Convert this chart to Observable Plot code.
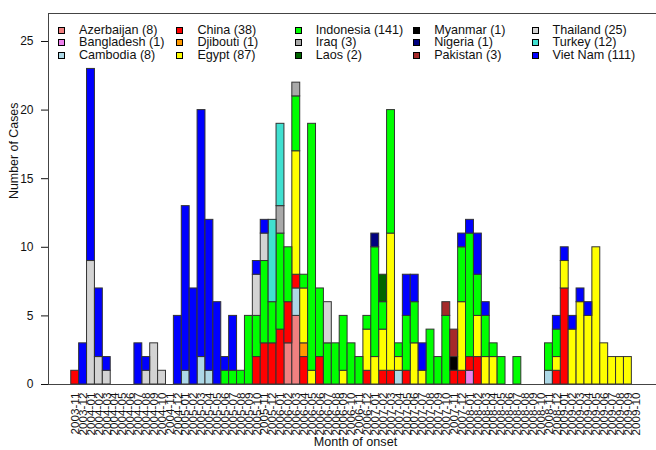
<!DOCTYPE html>
<html><head><meta charset="utf-8">
<script src="https://cdn.jsdelivr.net/npm/d3@7"></script>
<script src="https://cdn.jsdelivr.net/npm/@observablehq/plot@0.6"></script>
<style>
html,body{margin:0;padding:0;background:#fff;overflow:hidden;}
#wrap{position:relative;width:656px;height:450px;font-family:"Liberation Sans",Arial,sans-serif;}
#legend{position:absolute;left:58px;top:23.75px;display:grid;grid-auto-flow:column;grid-template-rows:repeat(3,12.5px);grid-template-columns:repeat(5,118.4px);z-index:2;}
.item{display:flex;align-items:center;font-size:12.6px;line-height:12.5px;white-space:nowrap;color:#111;}
.sw{width:7px;height:7px;box-sizing:border-box;border:1px solid #000;margin-right:14px;flex:none;}
</style></head>
<body><div id="wrap"><div id="legend"></div></div>
<script>
// Month of onset categories (tick labels)
const months = [
  "2003-11","2003-12",
  "2004-01","2004-02","2004-03","2004-04","2004-05","2004-06","2004-07","2004-08","2004-09","2004-10","2004-11","2004-12",
  "2005-01","2005-02","2005-03","2005-04","2005-05","2005-06","2005-07","2005-08","2005-09","2005-10","2005-11","2005-12",
  "2006-01","2006-02","2006-03","2006-04","2006-05","2006-06","2006-07","2006-08","2006-09","2006-10","2006-11","2006-12",
  "2007-01","2007-02","2007-03","2007-04","2007-05","2007-06","2007-07","2007-08","2007-09","2007-10","2007-11","2007-12",
  "2008-01","2008-02","2008-03","2008-04","2008-05","2008-06","2008-07","2008-08","2008-09","2008-10","2008-11","2008-12",
  "2009-01","2009-02","2009-03","2009-04","2009-05","2009-06","2009-07","2009-08","2009-09","2009-10"
];

const countries = ["Azerbaijan","Bangladesh","Cambodia","China","Djibouti","Egypt","Indonesia","Iraq","Laos","Myanmar","Nigeria","Pakistan","Thailand","Turkey","Viet Nam"];
const colors = ["#f08080","#ee82ee","#add8e6","#ff0000","#ff9900","#ffff00","#00ff00","#a9a9a9","#006400","#000000","#000080","#a52a2a","#d3d3d3","#40e0d0","#0000ff"];
const yTicks = [0,5,10,15,20,25];

// Cases per month (rows of 12: Nov..Oct), 2003-11 .. 2009-10
const azerbaijan = [
  0,0,0,0,0,0,0,0,0,0,0,0,
  0,0,0,0,0,0,0,0,0,0,0,0,
  0,0,0,3,5,0,0,0,0,0,0,0,
  0,0,0,0,0,0,0,0,0,0,0,0,
  0,0,0,0,0,0,0,0,0,0,0,0,
  0,0,0,0,0,0,0,0,0,0,0,0];
const bangladesh = [
  0,0,0,0,0,0,0,0,0,0,0,0,
  0,0,0,0,0,0,0,0,0,0,0,0,
  0,0,0,0,0,0,0,0,0,0,0,0,
  0,0,0,0,0,0,0,0,0,0,0,0,
  0,0,1,0,0,0,0,0,0,0,0,0,
  0,0,0,0,0,0,0,0,0,0,0,0];
const cambodia = [
  0,0,0,0,0,0,0,0,0,0,0,0,
  0,0,1,0,2,1,0,0,0,0,0,0,
  0,0,0,0,2,0,0,0,0,0,0,0,
  0,0,0,0,0,1,0,0,0,0,0,0,
  0,0,0,0,0,0,0,0,0,0,0,0,
  1,0,0,0,0,0,0,0,0,0,0,0];
const china = [
  1,0,0,0,0,0,0,0,0,0,0,0,
  0,0,0,0,0,0,0,0,0,0,0,2,
  3,3,4,3,1,2,0,2,0,0,0,0,
  0,1,0,1,1,0,1,0,0,0,0,0,
  1,1,1,2,0,0,0,0,0,0,0,0,
  0,1,7,0,0,0,0,0,0,0,0,0];
const djibouti = [
  0,0,0,0,0,0,0,0,0,0,0,0,
  0,0,0,0,0,0,0,0,0,0,0,0,
  0,0,0,0,0,1,0,0,0,0,0,0,
  0,0,0,0,0,0,0,0,0,0,0,0,
  0,0,0,0,0,0,0,0,0,0,0,0,
  0,0,0,0,0,0,0,0,0,0,0,0];
const egypt = [
  0,0,0,0,0,0,0,0,0,0,0,0,
  0,0,0,0,0,0,0,0,0,0,0,0,
  0,0,0,0,9,4,1,0,0,0,1,0,
  0,3,2,3,10,1,0,3,1,0,0,0,
  0,5,0,3,2,2,0,0,0,0,0,0,
  0,1,2,4,6,5,10,3,2,2,2,0];
const indonesia = [
  0,0,0,0,0,0,0,0,0,0,0,0,
  0,0,0,0,0,0,0,1,1,1,5,3,
  6,3,7,4,4,1,18,5,3,3,4,3,
  2,1,8,2,9,1,4,3,0,4,2,5,
  0,4,9,3,3,1,2,0,2,0,0,0,
  2,2,0,0,0,0,0,0,0,0,0,0];
const iraq = [
  0,0,0,0,0,0,0,0,0,0,0,0,
  0,0,0,0,0,0,0,0,0,0,0,0,
  0,0,2,0,1,0,0,0,0,0,0,0,
  0,0,0,0,0,0,0,0,0,0,0,0,
  0,0,0,0,0,0,0,0,0,0,0,0,
  0,0,0,0,0,0,0,0,0,0,0,0];
const laos = [
  0,0,0,0,0,0,0,0,0,0,0,0,
  0,0,0,0,0,0,0,0,0,0,0,0,
  0,0,0,0,0,0,0,0,0,0,0,0,
  0,0,0,2,0,0,0,0,0,0,0,0,
  0,0,0,0,0,0,0,0,0,0,0,0,
  0,0,0,0,0,0,0,0,0,0,0,0];
const myanmar = [
  0,0,0,0,0,0,0,0,0,0,0,0,
  0,0,0,0,0,0,0,0,0,0,0,0,
  0,0,0,0,0,0,0,0,0,0,0,0,
  0,0,0,0,0,0,0,0,0,0,0,0,
  1,0,0,0,0,0,0,0,0,0,0,0,
  0,0,0,0,0,0,0,0,0,0,0,0];
const nigeria = [
  0,0,0,0,0,0,0,0,0,0,0,0,
  0,0,0,0,0,0,0,0,0,0,0,0,
  0,0,0,0,0,0,0,0,0,0,0,0,
  0,0,1,0,0,0,0,0,0,0,0,0,
  0,0,0,0,0,0,0,0,0,0,0,0,
  0,0,0,0,0,0,0,0,0,0,0,0];
const pakistan = [
  0,0,0,0,0,0,0,0,0,0,0,0,
  0,0,0,0,0,0,0,0,0,0,0,0,
  0,0,0,0,0,0,0,0,0,0,0,0,
  0,0,0,0,0,0,0,0,0,0,0,1,
  2,0,0,0,0,0,0,0,0,0,0,0,
  0,0,0,0,0,0,0,0,0,0,0,0];
const thailand = [
  0,0,9,2,1,0,0,0,0,1,3,1,
  0,0,0,0,0,0,0,0,0,0,0,3,
  2,0,0,0,0,0,0,0,3,0,0,0,
  0,0,0,0,0,0,0,0,0,0,0,0,
  0,0,0,0,0,0,0,0,0,0,0,0,
  0,0,0,0,0,0,0,0,0,0,0,0];
const turkey = [
  0,0,0,0,0,0,0,0,0,0,0,0,
  0,0,0,0,0,0,0,0,0,0,0,0,
  0,6,6,0,0,0,0,0,0,0,0,0,
  0,0,0,0,0,0,0,0,0,0,0,0,
  0,0,0,0,0,0,0,0,0,0,0,0,
  0,0,0,0,0,0,0,0,0,0,0,0];
const vietnam = [
  0,3,14,5,1,0,0,0,3,1,0,0,
  0,5,12,7,18,11,6,1,4,0,0,1,
  1,0,0,0,0,0,0,0,0,0,0,0,
  0,0,0,0,0,0,3,2,2,0,0,0,
  0,1,1,3,1,0,0,0,0,0,0,0,
  0,1,1,1,1,1,0,0,0,0,0,0];

const series = [azerbaijan,bangladesh,cambodia,china,djibouti,egypt,indonesia,iraq,laos,myanmar,nigeria,pakistan,thailand,turkey,vietnam];

// long table, country-major (alphabetical => stacked bottom-up)
const rows = [];
countries.forEach((c, k) => series[k].forEach((v, i) => {
  if (v > 0) rows.push({month: months[i], country: c, cases: v});
}));

const chart = Plot.plot({
  width: 656,
  height: 450,
  marginLeft: 48,
  marginRight: -6,
  marginTop: 13,
  marginBottom: 66,
  style: {fontFamily: "Liberation Sans, Arial, sans-serif", background: "white", color: "#111"},
  x: {type: "band", domain: months, range: [70.74, 639.25], padding: 0, axis: null},
  y: {domain: [0, 27.04], axis: null},
  color: {domain: countries, range: colors},
  marks: [
    Plot.barY(rows, {x: "month", y: "cases", fill: "country", stroke: "#333", strokeWidth: 1, inset: 0}),
    Plot.frame({stroke: "#444"}),
    Plot.axisY({ticks: yTicks, tickSize: 7, tickPadding: 8, fontSize: 12, label: null}),
    Plot.axisX({tickRotate: -90, tickSize: 0, tickPadding: 8, fontSize: 11.7, label: null}),
    Plot.text(["Month of onset"], {frameAnchor: "bottom", dy: 61, fontSize: 12.6}),
    Plot.text(["Number of Cases"], {frameAnchor: "left", dx: -34.5, rotate: -90, fontSize: 12.4})
  ]
});
const wrap = document.getElementById("wrap");
wrap.insertBefore(chart, wrap.firstChild);

const legend = document.getElementById("legend");
countries.forEach((c, k) => {
  const item = document.createElement("div");
  item.className = "item";
  const sw = document.createElement("span");
  sw.className = "sw";
  sw.style.background = colors[k];
  const label = document.createElement("span");
  label.textContent = `${c} (${d3.sum(series[k])})`;
  item.appendChild(sw);
  item.appendChild(label);
  legend.appendChild(item);
});
</script>
</body></html>
